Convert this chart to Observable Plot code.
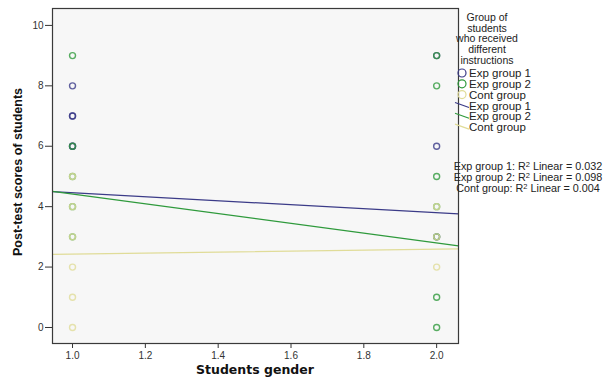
<!DOCTYPE html>
<html>
<head>
<meta charset="utf-8">
<script src="https://cdn.jsdelivr.net/npm/d3@7"></script>
<script src="https://cdn.jsdelivr.net/npm/@observablehq/plot@0.6"></script>
<style>
  html, body { margin: 0; padding: 0; background: #fff; }
  #wrap { position: relative; width: 604px; height: 381px; overflow: hidden; }
  #legend { position: absolute; left: 0; top: 0; }
</style>
</head>
<body>
<div id="wrap"></div>
<script>
// ---- data ----
const groups = ["Exp group 1", "Exp group 2", "Cont group"];
const genderLevels = [1, 2];
// scores observed at gender 1 and gender 2, per group
const exp1Gender1 = [8, 7, 7, 6, 6];
const exp1Gender2 = [9, 6, 3];
const exp2Gender1 = [9, 6, 5, 4, 3];
const exp2Gender2 = [9, 8, 5, 4, 3, 1, 0];
const contGender1 = [5, 4, 3, 2, 1, 0];
const contGender2 = [4, 3, 2];
// fitted linear values at gender 1 and gender 2
const fitExp1 = [4.46, 3.80];
const fitExp2 = [4.42, 2.80];
const fitCont = [2.43, 2.59];
const rSquared = [0.032, 0.098, 0.004];
const xTicks = [1.0, 1.2, 1.4, 1.6, 1.8, 2.0];
const yTicks = [0, 2, 4, 6, 8, 10];
const xLabel = "Students gender";
const yLabel = "Post-test scores of students";
const legendTitle = ["Group of", "students", "who received", "different", "instructions"];

// ---- build tables ----
const colors = ["#3b3b88", "#2f9a3c", "#e0dc98"];
const scoreSets = [[exp1Gender1, exp1Gender2], [exp2Gender1, exp2Gender2], [contGender1, contGender2]];
const points = [];
groups.forEach((g, gi) => {
  genderLevels.forEach((gx, li) => {
    scoreSets[gi][li].forEach(v => points.push({group: g, gender: gx, score: v}));
  });
});
const xDomain = [0.945, 2.06];
const yDomain = [-0.53, 10.56];
const fits = [fitExp1, fitExp2, fitCont];
const lines = [];
groups.forEach((g, gi) => {
  const [a, b] = fits[gi];
  xDomain.forEach(x => lines.push({group: g, gender: x, score: a + (b - a) * (x - 1)}));
});

const W = 604, H = 381;
const chart = Plot.plot({
  width: W, height: H,
  marginLeft: 52, marginRight: 146, marginTop: 8, marginBottom: 38,
  x: {domain: xDomain},
  y: {domain: yDomain},
  color: {domain: groups, range: colors},
  style: {fontFamily: "'Liberation Sans', Arial, sans-serif", background: "transparent"},
  marks: [
    Plot.frame({fill: "#f7f7f7", stroke: "none"}),
    Plot.dot(points, {x: "gender", y: "score", stroke: "group", r: 3, strokeWidth: 1.4, strokeOpacity: 0.8}),
    Plot.line(lines, {x: "gender", y: "score", z: "group", stroke: "group", strokeWidth: 1.2}),
    Plot.axisX({ticks: xTicks, tickFormat: d3.format(".1f"), tickSize: 5, tickPadding: 3, fontSize: 10, color: "#333", label: null}),
    Plot.axisY({ticks: yTicks, tickFormat: d3.format("d"), tickSize: 7, tickPadding: 2, fontSize: 10, color: "#333", label: null}),
    Plot.frame({stroke: "#3a3a3a", strokeWidth: 1.2})
  ]
});
document.getElementById("wrap").appendChild(chart);

// overlay: axis titles and legend
const ov = d3.select("#wrap").append("svg").attr("id", "legend").attr("width", W).attr("height", H)
  .style("font-family", "'Liberation Sans', Arial, sans-serif");
ov.append("text").attr("x", 255).attr("y", 374).attr("text-anchor", "middle")
  .attr("font-size", 12.5).attr("font-weight", "bold").attr("font-family", "'DejaVu Sans', sans-serif").attr("fill", "#111").text(xLabel);
ov.append("text").attr("transform", "translate(22,172) rotate(-90)").attr("text-anchor", "middle")
  .attr("font-size", 12.5).attr("font-weight", "bold")
  .attr("fill", "#111").text(yLabel);

const lx = 487;
legendTitle.forEach((t, i) => {
  ov.append("text").attr("x", lx).attr("y", 21 + i * 10.7).attr("text-anchor", "middle")
    .attr("font-size", 10.5).attr("fill", "#222").text(t);
});
groups.forEach((g, i) => {
  const y = 73 + i * 10.8;
  ov.append("circle").attr("cx", 462).attr("cy", y).attr("r", 4).attr("fill", "none").attr("stroke", colors[i]).attr("stroke-width", 1.2);
  ov.append("text").attr("x", 469).attr("y", y + 4).attr("font-size", 11.5).attr("fill", "#222").text(g);
});
groups.forEach((g, i) => {
  const y = 105.5 + i * 10.8;
  ov.append("line").attr("x1", 455).attr("y1", y - 3).attr("x2", 469).attr("y2", y + 2).attr("stroke", colors[i]).attr("stroke-width", 1.2);
  ov.append("text").attr("x", 469).attr("y", y + 4).attr("font-size", 11.5).attr("fill", "#222").text(g);
});
groups.forEach((g, i) => {
  const t = ov.append("text").attr("x", 528).attr("y", 170 + i * 11.2).attr("text-anchor", "middle")
    .attr("font-size", 10.8).attr("fill", "#222");
  t.append("tspan").text(g + ": R");
  t.append("tspan").attr("dy", -3).attr("font-size", 7.5).text("2");
  t.append("tspan").attr("dy", 3).text(" Linear = " + d3.format(".3f")(rSquared[i]));
});
</script>
</body>
</html>
